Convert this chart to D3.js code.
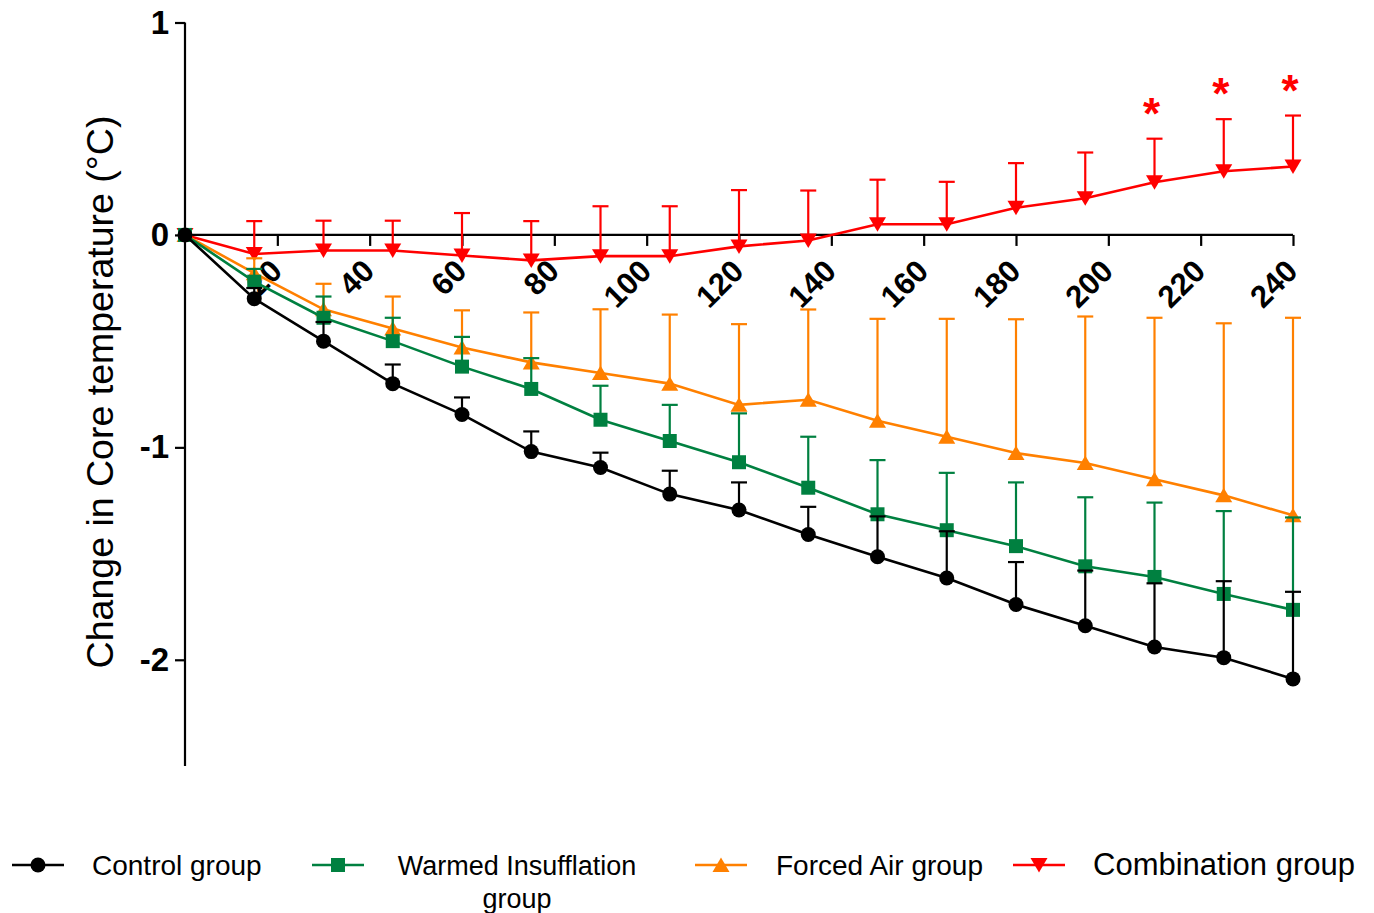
<!DOCTYPE html>
<html><head><meta charset="utf-8">
<script src="https://cdn.jsdelivr.net/npm/d3@7"></script>
<style>body{margin:0;background:#fff} svg{display:block} text{font-family:"Liberation Sans",Arial,sans-serif}</style>
</head><body><svg id="c" width="1374" height="913"></svg>
<script>
const times = [0,15,30,45,60,75,90,105,120,135,150,165,180,195,210,225,240];
const xTicks = [20,40,60,80,100,120,140,160,180,200,220,240];
const yTicks = [1,0,-1,-2];

const controlMean = [0,-0.30,-0.50,-0.70,-0.845,-1.02,-1.095,-1.22,-1.295,-1.41,-1.515,-1.615,-1.74,-1.84,-1.94,-1.99,-2.09];
const controlSD   = [0,0.05,0.09,0.09,0.08,0.095,0.07,0.11,0.13,0.13,0.19,0.22,0.20,0.26,0.30,0.36,0.41];
const warmedMean  = [0,-0.22,-0.39,-0.50,-0.62,-0.725,-0.87,-0.97,-1.07,-1.19,-1.315,-1.39,-1.465,-1.56,-1.61,-1.69,-1.765];
const warmedSD    = [0,0.06,0.10,0.11,0.14,0.145,0.16,0.17,0.23,0.24,0.255,0.27,0.30,0.325,0.35,0.39,0.435];
const forcedMean  = [0,-0.18,-0.35,-0.44,-0.53,-0.60,-0.65,-0.70,-0.80,-0.776,-0.875,-0.95,-1.027,-1.074,-1.15,-1.226,-1.32];
const forcedSD    = [0,0.07,0.12,0.15,0.175,0.235,0.30,0.325,0.38,0.425,0.48,0.555,0.63,0.69,0.76,0.81,0.93];
const comboMean   = [0,-0.09,-0.073,-0.073,-0.097,-0.12,-0.10,-0.10,-0.054,-0.026,0.05,0.05,0.128,0.173,0.248,0.30,0.322];
const comboSD     = [0,0.155,0.14,0.14,0.20,0.185,0.235,0.235,0.265,0.235,0.21,0.20,0.21,0.215,0.205,0.245,0.24];
const significant = [210,225,240];

const seriesNames = ["Control group","Warmed Insufflation group","Forced Air group","Combination group"];

const series = [
  {name:seriesNames[3], mean:comboMean, sd:comboSD, color:"#ff0000", sym:"tdown"},
  {name:seriesNames[2], mean:forcedMean, sd:forcedSD, color:"#ff8000", sym:"tup"},
  {name:seriesNames[1], mean:warmedMean, sd:warmedSD, color:"#008040", sym:"square"},
  {name:seriesNames[0], mean:controlMean, sd:controlSD, color:"#000000", sym:"circle"}
];

const svg = d3.select("#c");
const x = d3.scaleLinear().domain([0,240]).range([185,1293]);
const y = d3.scaleLinear().domain([-2.5,1]).range([766,22.5]);

function symPath(sym){
  if(sym==="circle") return "M0,-7.5A7.5,7.5 0 1,1 0,7.5A7.5,7.5 0 1,1 0,-7.5Z";
  if(sym==="square") return "M-7,-7H7V7H-7Z";
  if(sym==="tup") return "M0,-7.5L8.5,7L-8.5,7Z";
  if(sym==="tdown") return "M0,7.5L8.5,-7L-8.5,-7Z";
}
const fmt = d => String(d);

// Y axis
const yAxis = svg.append("g").attr("transform","translate(185,0)")
  .call(d3.axisLeft(y).tickValues(yTicks).tickFormat(fmt).tickSize(10).tickPadding(6));
yAxis.select(".domain").attr("stroke","#000").attr("stroke-width",2.2).attr("d","M0,"+y(1)+"V"+y(-2.5));
yAxis.selectAll(".tick line").attr("stroke-width",2.2);
yAxis.selectAll(".tick text").attr("font-size",33).attr("font-weight","bold").attr("font-family","'Liberation Sans',Arial,sans-serif").attr("fill","#000");

// X axis at y=0
const xAxis = svg.append("g").attr("transform","translate(0,"+y(0)+")")
  .call(d3.axisBottom(x).tickValues(xTicks).tickSize(11).tickFormat(fmt));
xAxis.select(".domain").attr("stroke","#000").attr("stroke-width",2.2).attr("d","M"+x(0)+",0H"+x(240));
xAxis.selectAll(".tick line").attr("stroke-width",2.2);
xAxis.selectAll(".tick text")
  .attr("font-size",31).attr("font-weight","bold").attr("font-family","'Liberation Sans',Arial,sans-serif").attr("fill","#000")
  .attr("text-anchor","end").attr("dy",null).attr("y",null)
  .attr("transform","translate(6,38) rotate(-45)");

// Y label
svg.append("text").attr("transform","translate(113,392) rotate(-90)")
  .attr("text-anchor","middle").attr("font-size",37.5).attr("fill","#000")
  .text("Change in Core temperature (°C)");

const line = d3.line().x(d=>x(d[0])).y(d=>y(d[1]));

series.forEach(s=>{
  const g = svg.append("g");
  const pts = times.map((t,i)=>[t,s.mean[i],s.sd[i]]);
  g.append("path").datum(pts).attr("d",line).attr("fill","none").attr("stroke",s.color).attr("stroke-width",2.6);
  pts.filter(p=>p[2]>0).forEach(p=>{
    const x0=x(p[0]), y0=y(p[1]), y1=y(p[1]+p[2]);
    g.append("line").attr("x1",x0).attr("x2",x0).attr("y1",y0).attr("y2",y1).attr("stroke",s.color).attr("stroke-width",2.2);
    g.append("line").attr("x1",x0-8).attr("x2",x0+8).attr("y1",y1).attr("y2",y1).attr("stroke",s.color).attr("stroke-width",2.2);
  });
  g.selectAll("path.m").data(pts).enter().append("path").attr("class","m")
    .attr("d",symPath(s.sym)).attr("transform",p=>"translate("+x(p[0])+","+y(p[1])+")")
    .attr("fill",s.color);
});

// significance stars
significant.forEach(t=>{
  const i = times.indexOf(t);
  svg.append("text").attr("x",x(t)-3).attr("y",y(comboMean[i]+comboSD[i])-10)
    .attr("text-anchor","middle").attr("font-size",44).attr("font-weight","bold").attr("fill","#ff0000").text("*");
});

// legend
const legend = [
  {s:series[3], lx:12, tx:92, fs:28},
  {s:series[2], lx:312, tx:517, fs:27, lines:["Warmed Insufflation","group"]},
  {s:series[1], lx:695, tx:776, fs:28},
  {s:series[0], lx:1013, tx:1093, fs:31}
];
legend.forEach(L=>{
  const g = svg.append("g");
  g.append("line").attr("x1",L.lx).attr("x2",L.lx+52).attr("y1",865).attr("y2",865).attr("stroke",L.s.color).attr("stroke-width",2.6);
  g.append("path").attr("d",symPath(L.s.sym)).attr("transform","translate("+(L.lx+26)+",865)").attr("fill",L.s.color);
  if(L.lines){
    L.lines.forEach((tx,k)=>{
      g.append("text").attr("x",L.tx).attr("y",875+k*33).attr("text-anchor","middle").attr("font-size",L.fs).attr("fill","#000").text(tx);
    });
  } else {
    g.append("text").attr("x",L.tx).attr("y",875).attr("font-size",L.fs).attr("fill","#000").text(L.s.name);
  }
});
</script></body></html>
